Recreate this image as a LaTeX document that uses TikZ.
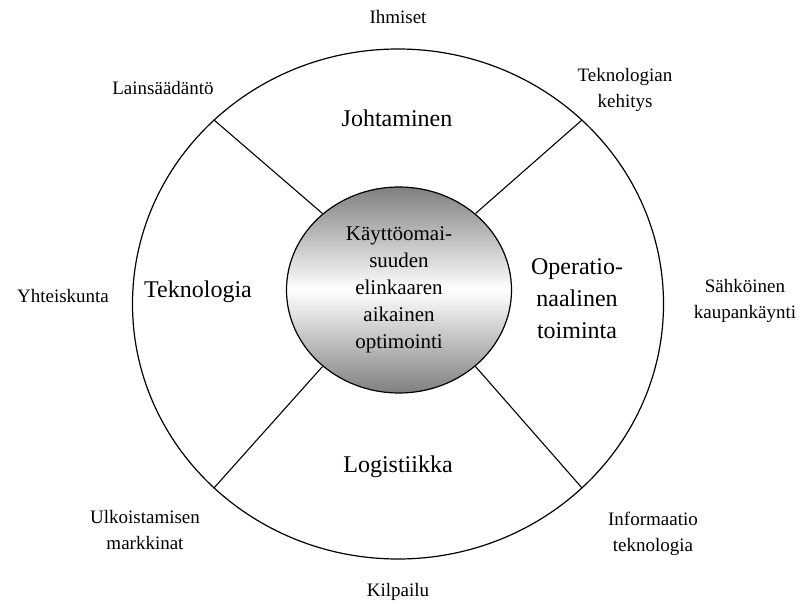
\documentclass[tikz,border=0pt]{standalone}
\usepackage{fontspec}
\setmainfont{Liberation Serif}
\usetikzlibrary{positioning, shapes.geometric}

\begin{document}
\begin{tikzpicture}[x=1pt, y=-1pt,
    ring/.style = {ellipse, draw, line width=1.2pt, inner sep=0pt},
    spoke/.style = {line width=1.1pt},
    area/.style = {align=center, font=\fontsize{24}{32}\selectfont},
    outer/.style = {align=center, font=\fontsize{19}{26}\selectfont}]

    \useasboundingbox (0, 0) rectangle (806, 604);

    \node [ring, minimum width=531pt, minimum height=510pt] (rim) at (398, 304) {};
    \node [ring, minimum width=225pt, minimum height=206pt, top color=black!50, bottom color=black!50, middle color=white,
        align=center, font=\fontsize{21}{27}\selectfont] (core) at (399, 290) {Käyttöomai-\\suuden\\elinkaaren\\aikainen\\optimointi};

    \draw [spoke] (core.135) -- (rim.135);
    \draw [spoke] (core.45) -- (rim.45);
    \draw [spoke] (core.225) -- (rim.225);
    \draw [spoke] (core.315) -- (rim.315);

    \node [area] (mgmt) at (397, 118) {Johtaminen};
    \node [area] (tech) at (198, 292) {Teknologia};
    \node [area] (ops) at (577, 299) {Operatio-\\naalinen\\toiminta};
    \node [area] (logi) at (398, 467) {Logistiikka};

    \node [outer] (people) at (398, 17) {Ihmiset};
    \node [outer] (law) at (163, 88) {Lainsäädäntö};
    \node [outer] (techdev) at (625, 90) {Teknologian\\kehitys};
    \node [outer] (society) at (63, 296) {Yhteiskunta};
    \node [outer] (ecom) at (745, 301) {Sähköinen\\kaupankäynti};
    \node [outer] (outsrc) at (145, 530) {Ulkoistamisen\\markkinat};
    \node [outer] (infotech) at (653, 534) {Informaatio\\teknologia};
    \node [outer] (compet) at (398, 592) {Kilpailu};
\end{tikzpicture}
\end{document}
